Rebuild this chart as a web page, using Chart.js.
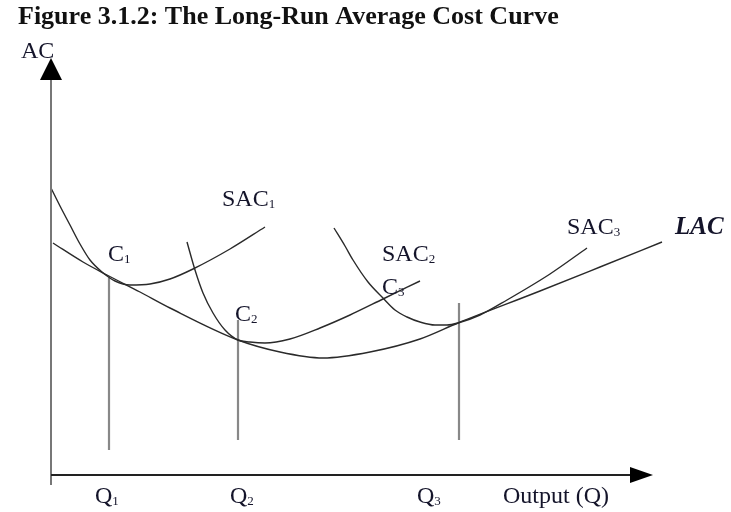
<!DOCTYPE html>
<html>
<head>
<meta charset="utf-8">
<title>The Long-Run Average Cost Curve</title>
<script src="https://cdn.jsdelivr.net/npm/chart.js@4.4.1/dist/chart.umd.min.js"></script>
<style>
  html, body { margin: 0; padding: 0; background: #fff; }
  canvas { display: block; }
</style>
</head>
<body>
<canvas id="lacChart" width="731" height="512"></canvas>
<script>
// Datos (x = producción, y = coste medio)
const lacX = [0.2, 3.2, 5.6, 8.9, 11.9, 18.7, 22.9, 27.2, 31.9, 36.9, 40.7, 48.9, 54.9, 61.1];
const lacY = [23.2, 21.3, 20.0, 18.3, 16.7, 13.5, 12.3, 11.7, 12.3, 13.6, 15.2, 18.4, 20.8, 23.3];

const sac1X = [0, 0.9, 1.9, 2.9, 3.9, 5.1, 6.4, 7.9, 9.9, 11.9, 14.2, 17.9, 21.4];
const sac1Y = [28.7, 26.9, 25.0, 23.1, 21.5, 20.3, 19.4, 19.0, 19.1, 19.6, 20.6, 22.6, 24.8];

const sac2X = [13.6, 14.4, 15.2, 16.2, 17.4, 18.7, 19.9, 21.4, 23.9, 26.9, 29.9, 33.2, 36.9];
const sac2Y = [23.3, 20.5, 18.2, 16.2, 14.5, 13.5, 13.3, 13.2, 13.6, 14.7, 16.0, 17.6, 19.4];

const sac3X = [28.3, 29.4, 30.2, 31.7, 33.2, 34.4, 35.6, 36.9, 38.4, 39.6, 40.7, 42.9, 45.6, 49.9, 53.6];
const sac3Y = [24.7, 22.9, 21.5, 19.3, 17.7, 16.5, 15.8, 15.3, 15.0, 15.0, 15.2, 16.0, 17.5, 20.1, 22.7];

// Líneas verticales en Q1, Q2, Q3
const qX = [5.8, 18.7, 40.8];
const qTop = [19.7, 15.5, 17.2];
const qBottom = [2.5, 3.5, 3.5];

// Etiquetas del gráfico
const labelText = ['SAC', 'SAC', 'SAC', 'LAC', 'C', 'C', 'C', 'Q', 'Q', 'Q', 'Output (Q)', 'AC'];
const labelSub = ['1', '2', '3', '', '1', '2', '3', '1', '2', '3', '', ''];
const labelX = [17.1, 33.1, 51.6, 62.4, 5.7, 18.4, 33.1, 4.4, 17.9, 36.6, 45.2, -3.0];
const labelY = [27.5, 22.0, 24.7, 24.7, 22.0, 16.0, 18.7, -2.2, -2.2, -2.2, -2.2, 42.3];

const titleText = 'Figure 3.1.2: The Long-Run Average Cost Curve';

// Extremos de los ejes
const xAxisEnd = 60.2;
const yAxisEnd = 41.7;
const yAxisBottom = -1.0;

function toPoints(xs, ys) {
  return xs.map((x, i) => ({ x: x, y: ys[i] }));
}

function curve(label, xs, ys) {
  return {
    label: label,
    data: toPoints(xs, ys),
    showLine: true,
    borderColor: '#2a2a2a',
    borderWidth: 1.4,
    pointRadius: 0,
    cubicInterpolationMode: 'monotone',
    fill: false
  };
}

const datasets = [
  curve('LAC', lacX, lacY),
  curve('SAC1', sac1X, sac1Y),
  curve('SAC2', sac2X, sac2Y),
  curve('SAC3', sac3X, sac3Y)
];

qX.forEach((x, i) => {
  datasets.push({
    label: 'Q' + (i + 1),
    data: [{ x: x, y: qBottom[i] }, { x: x, y: qTop[i] }],
    showLine: true,
    borderColor: '#888',
    borderWidth: 2.2,
    pointRadius: 0
  });
});

// Plugin para los ejes con flechas y los textos
const axesAndLabels = {
  id: 'axesAndLabels',
  afterDatasetsDraw(chart) {
    const c = chart.ctx;
    const sx = chart.scales.x;
    const sy = chart.scales.y;
    const ox = sx.getPixelForValue(0);
    const oy = sy.getPixelForValue(0);
    const xt = sx.getPixelForValue(xAxisEnd);
    const yt = sy.getPixelForValue(yAxisEnd);

    c.save();
    // eje Y
    c.strokeStyle = '#777';
    c.lineWidth = 2;
    c.beginPath();
    c.moveTo(ox, sy.getPixelForValue(yAxisBottom));
    c.lineTo(ox, yt + 18);
    c.stroke();
    c.fillStyle = '#000';
    c.beginPath();
    c.moveTo(ox, yt);
    c.lineTo(ox - 11, yt + 22);
    c.lineTo(ox + 11, yt + 22);
    c.closePath();
    c.fill();

    // eje X
    c.strokeStyle = '#222';
    c.beginPath();
    c.moveTo(ox, oy);
    c.lineTo(xt - 20, oy);
    c.stroke();
    c.beginPath();
    c.moveTo(xt, oy);
    c.lineTo(xt - 23, oy - 8);
    c.lineTo(xt - 23, oy + 8);
    c.closePath();
    c.fill();

    // textos
    c.fillStyle = '#14142a';
    c.textBaseline = 'middle';
    c.textAlign = 'left';
    labelText.forEach((t, i) => {
      const px = sx.getPixelForValue(labelX[i]);
      const py = sy.getPixelForValue(labelY[i]);
      c.font = t === 'LAC' ? 'italic bold 25px "Liberation Serif"' : '24px "Liberation Serif"';
      c.fillText(t, px, py);
      if (labelSub[i]) {
        const w = c.measureText(t).width;
        c.font = '13px "Liberation Serif"';
        c.fillText(labelSub[i], px + w, py + 5);
      }
    });

    c.font = 'bold 26px "Liberation Serif"';
    c.fillStyle = '#111';
    c.fillText(titleText, 18, 17);
    c.restore();
  }
};

new Chart(document.getElementById('lacChart'), {
  type: 'scatter',
  data: { datasets: datasets },
  options: {
    responsive: false,
    animation: false,
    layout: { padding: 0 },
    plugins: {
      legend: { display: false },
      tooltip: { enabled: false }
    },
    scales: {
      x: { type: 'linear', min: -5.1, max: 68.0, display: false },
      y: { type: 'linear', min: -3.7, max: 47.5, display: false }
    }
  },
  plugins: [axesAndLabels]
});
</script>
</body>
</html>
